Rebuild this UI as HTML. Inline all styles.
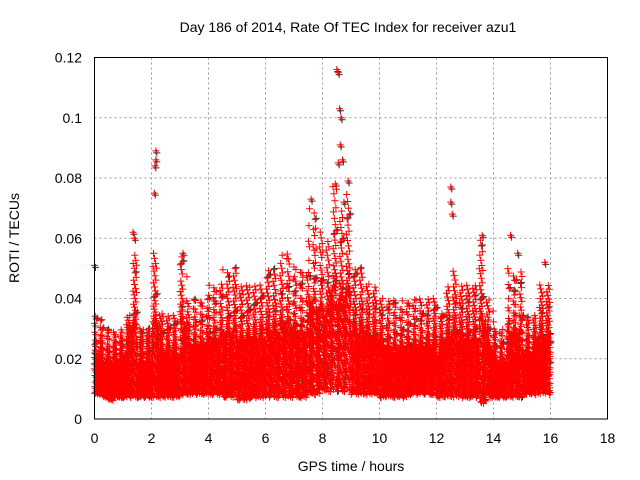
<!DOCTYPE html>
<html><head><meta charset="utf-8"><style>
body{margin:0;background:#fff}
svg{display:block;font-family:"Liberation Sans",sans-serif}
</style></head><body>
<svg id="chart" width="640" height="480">
<rect width="640" height="480" fill="#fff"/>
<text x="348" y="32" font-size="14" text-anchor="middle">Day 186 of 2014, Rate Of TEC Index for receiver azu1</text>
<g id="grid"></g>
<g id="marks"></g>
<rect x="94.5" y="57.5" width="513" height="361.5" fill="none" stroke="#000"/>
<g id="ticks"></g>
<text x="351" y="471" font-size="14" text-anchor="middle">GPS time / hours</text>
<text transform="translate(19,238) rotate(-90)" font-size="14" text-anchor="middle">ROTI / TECUs</text>
</svg>
<script>
const xTicks=[0,2,4,6,8,10,12,14,16,18];
const yTicks=[0,0.02,0.04,0.06,0.08,0.1,0.12];
const yTickLabels=["0","0.02","0.04","0.06","0.08","0.1","0.12"];
// per 0.25 h bins from 0 to 16 h: upper envelope of the main band
const binHigh=[0.035,0.03,0.03,0.03,0.035,0.055,0.03,0.03,0.055,0.035,0.035,0.035,0.055,0.04,0.04,0.04,
0.045,0.045,0.05,0.05,0.045,0.045,0.045,0.045,0.05,0.05,0.055,0.055,0.05,0.05,0.07,0.065,
0.06,0.078,0.07,0.075,0.05,0.05,0.045,0.045,0.04,0.04,0.04,0.04,0.04,0.04,0.04,0.04,
0.035,0.045,0.05,0.045,0.045,0.045,0.06,0.04,0.03,0.03,0.05,0.05,0.035,0.035,0.045,0.045];
const binLow=[0.008,0.007,0.006,0.007,0.007,0.007,0.007,0.007,0.007,0.007,0.007,0.007,0.008,0.008,0.008,0.008,
0.008,0.008,0.007,0.007,0.006,0.006,0.007,0.007,0.007,0.007,0.007,0.007,0.007,0.007,0.008,0.008,
0.009,0.009,0.009,0.009,0.008,0.008,0.008,0.008,0.007,0.007,0.007,0.007,0.008,0.008,0.008,0.008,
0.007,0.007,0.007,0.007,0.007,0.007,0.005,0.007,0.007,0.007,0.007,0.007,0.008,0.008,0.008,0.008];
const spikeT=[0,1.35,1.4,2.15,2.15,2.12,2.1,3.1,8.5,8.55,8.6,8.62,8.7,8.55,8.45,8.9,7.6,12.5,12.5,12.55,13.6,14.6,14.85,15.8,8.65,8.75];
const spikeV=[0.051,0.062,0.06,0.089,0.086,0.084,0.075,0.055,0.116,0.115,0.103,0.091,0.086,0.085,0.078,0.079,0.073,0.077,0.072,0.068,0.061,0.061,0.055,0.052,0.1,0.072];
const X=t=>94.5+t*28.5, Y=v=>419-v*(361.5/0.12);
const NS='http://www.w3.org/2000/svg';
const g=document.getElementById('grid'),tk=document.getElementById('ticks'),mk=document.getElementById('marks');
function el(tag,a,p){const e=document.createElementNS(NS,tag);for(const k in a)e.setAttribute(k,a[k]);p.appendChild(e);return e;}
xTicks.forEach((t,i)=>{
 if(i>0&&i<xTicks.length-1){const l=el('line',{x1:X(t),x2:X(t),y1:57.5,y2:419,stroke:'#999','stroke-dasharray':'2,3'},g);
 
 }
 const s=el('text',{x:X(t),y:443,'font-size':14,'text-anchor':'middle'},tk);s.textContent=t;
 
 
});
yTicks.forEach((v,i)=>{
 if(i>0&&i<yTicks.length-1){const l=el('line',{x1:94.5,x2:607.5,y1:Y(v),y2:Y(v),stroke:'#999','stroke-dasharray':'2,3'},g);
 
 }
 const s=el('text',{x:82,y:Y(v)+5,'font-size':14,'text-anchor':'end'},tk);s.textContent=yTickLabels[i];
 
 
});
let dr='',dk='';
function plus(x,y){return `M${(x-3.5).toFixed(1)} ${y.toFixed(1)}h7M${x.toFixed(1)} ${(y-3.5).toFixed(1)}v7`;}
const a1=0.7548776662,a2=0.5698402910;
binHigh.forEach((hi,i)=>{
 const lo=binLow[i],t0=i*0.25,core=lo+(hi-lo)*0.5;
 for(let k=0;k<110;k++){
  const fx=(0.5+(k+i*37)*a1)%1,fy=(0.5+(k+i*37)*a2)%1;
  const t=t0+fx*0.25;
  const v=k%4!=3?lo+(core-lo)*fy:core+(hi-core)*Math.pow(fy,1.6);
  if(k%9==0)dk+=plus(X(t)+1,Y(v)-1);
  dr+=plus(X(t),Y(v));
 }
});
spikeT.forEach((t,i)=>{dr+=plus(X(t),Y(spikeV[i]));dk+=plus(X(t)+1,Y(spikeV[i])+2);});
const pk=el('path',{d:dk,stroke:'#333','stroke-width':1,fill:'none'},mk);


const pr=el('path',{d:dr,stroke:'#f00','stroke-width':1,fill:'none'},mk);


</script>
</body></html>
